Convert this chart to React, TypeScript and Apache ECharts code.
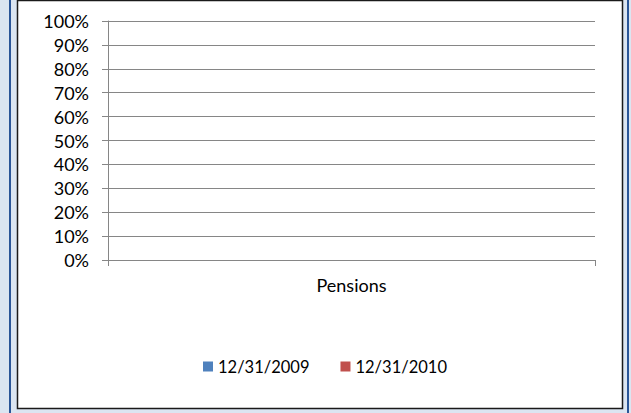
import React, { useEffect, useRef } from "react";
import * as echarts from "echarts";

const categories = ["Pensions"];
const seriesNames = ["12/31/2009", "12/31/2010"];
const values2009: (number | null)[] = [null];
const values2010: (number | null)[] = [null];
const yTicks = [0, 10, 20, 30, 40, 50, 60, 70, 80, 90, 100];

export default function App() {
  const ref = useRef<HTMLDivElement>(null);
  useEffect(() => {
    const chart = echarts.init(ref.current!, null, { renderer: "svg" });
    const font = "Lato, 'Noto Sans', sans-serif";
    chart.setOption({
      animation: false,
      backgroundColor: "#dbe5f1",
      textStyle: { fontFamily: font },
      graphic: [
        { type: "rect", z: -10, shape: { x: 9, y: 0, width: 2, height: 413 }, style: { fill: "#2a5597" } },
        { type: "rect", z: -10, shape: { x: 627, y: 0, width: 2, height: 413 }, style: { fill: "#2a5597" } },
        {
          type: "rect",
          z: -9,
          shape: { x: 17.5, y: 0.5, width: 605, height: 408 },
          style: { fill: "#ffffff", stroke: "#1a1a1a", lineWidth: 1.5 },
        },
      ],
      grid: { left: 108, right: 36, top: 21, bottom: 153, containLabel: false },
      legend: {
        top: 358,
        left: 203,
        padding: 0,
        itemWidth: 10,
        itemHeight: 10,
        itemGap: 31,
        icon: "rect",
        textStyle: { fontFamily: font, fontSize: 16.5, color: "#000" },
        data: seriesNames,
      },
      xAxis: {
        type: "category",
        data: categories,
        boundaryGap: true,
        axisLine: { show: true, lineStyle: { color: "#868686", width: 1 } },
        axisTick: { show: true, length: 6, lineStyle: { color: "#868686" } },
        axisLabel: { color: "#000", fontSize: 18, fontFamily: font, margin: 16 },
      },
      yAxis: {
        type: "value",
        min: 0,
        max: 100,
        interval: 10,
        axisLine: { show: true, lineStyle: { color: "#868686", width: 1 } },
        axisTick: { show: true, length: 6, lineStyle: { color: "#868686" } },
        splitLine: { show: true, lineStyle: { color: "#868686", width: 1 } },
        axisLabel: {
          color: "#000",
          fontSize: 18,
          fontFamily: font,
          margin: 19,
          formatter: (v: number) => (yTicks.includes(v) ? v + "%" : ""),
        },
      },
      series: [
        { name: seriesNames[0], type: "bar", data: values2009, itemStyle: { color: "#4f81bd" } },
        { name: seriesNames[1], type: "bar", data: values2010, itemStyle: { color: "#c0504d" } },
      ],
    });
    return () => chart.dispose();
  }, []);
  return (
    <div
      ref={ref}
      style={{ position: "fixed", left: 0, top: 0, width: 631, height: 413 }}
    />
  );
}
